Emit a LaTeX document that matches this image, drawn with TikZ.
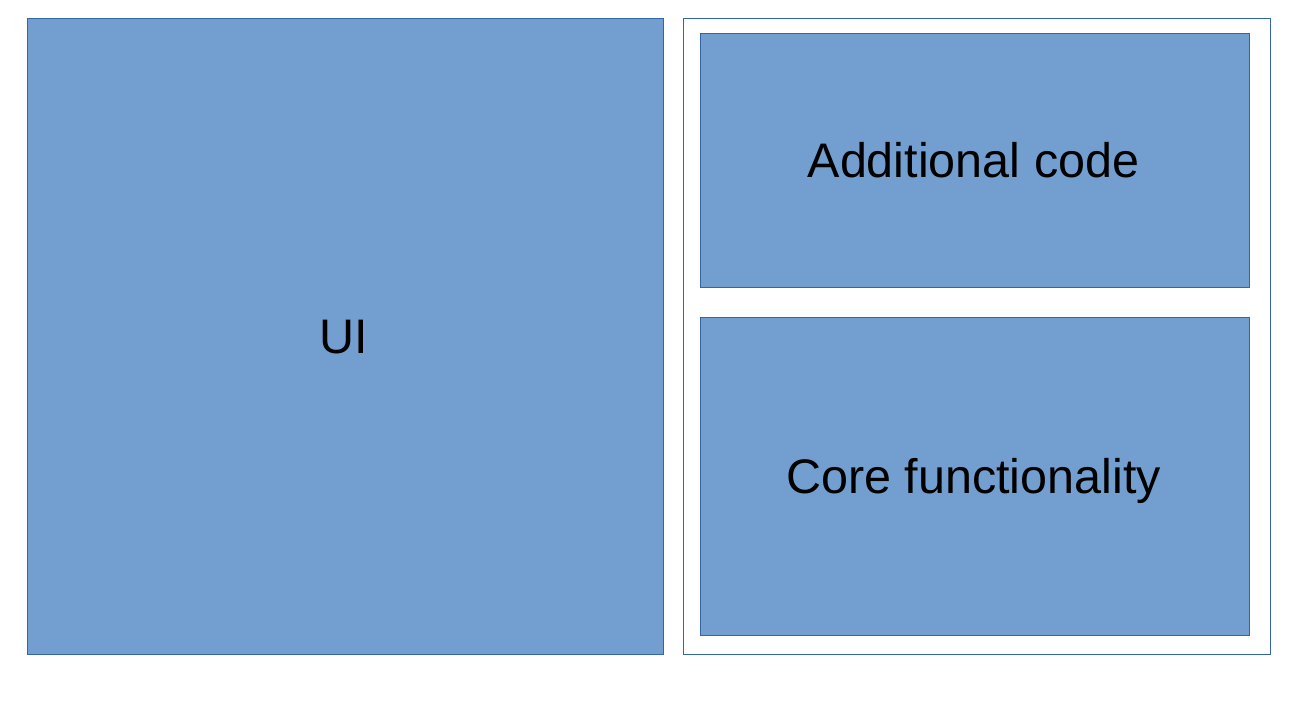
\documentclass[tikz,border=0pt]{standalone}
\usepackage{fontspec}
\setmainfont{Liberation Sans}
\definecolor{boxfill}{HTML}{729FCF}
\definecolor{boxline}{HTML}{3465A4}
\begin{document}
\begin{tikzpicture}[x=1pt,y=-1pt,
  bluebox/.style={draw=boxline,fill=boxfill,line width=0.8pt},
  frame/.style={draw=boxline,fill=white,line width=0.8pt},
  lbl/.style={font=\fontsize{48.5}{56}\selectfont,text=black,anchor=base,inner sep=0pt}]
\useasboundingbox[fill=white] (0,0) rectangle (1291,701);
\draw[bluebox] (27,18) rectangle (663,654);
\node[lbl] (ui) at (344,353) {UI};
\draw[frame] (683,18) rectangle (1270,654);
\draw[bluebox] (700,33) rectangle (1249,287);
\node[lbl] (add) at (973.5,177) {Additional code};
\draw[bluebox] (700,317) rectangle (1249,635);
\node[lbl] (core) at (973.5,493) {Core functionality};
\end{tikzpicture}
\end{document}
